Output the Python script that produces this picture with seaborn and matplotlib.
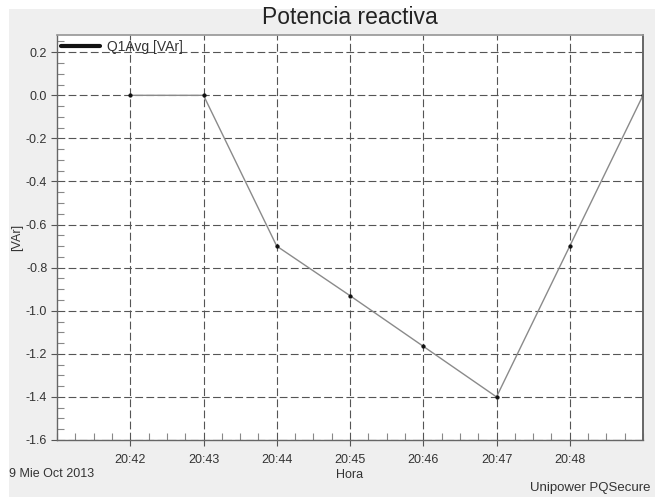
import matplotlib
matplotlib.use("Agg")
import matplotlib.pyplot as plt
import matplotlib.dates as mdates
from matplotlib.ticker import MultipleLocator
from matplotlib.patches import Rectangle
import pandas as pd
import seaborn as sns

# Reactive power samples, one per minute
times = ["20:42", "20:43", "20:44", "20:45", "20:46", "20:47", "20:48", "20:49"]
q1avg = [0.0, 0.0, -0.70, -0.93, -1.165, -1.40, -0.70, 0.0]
day = "2013-10-09"

title = "Potencia reactiva"
series_name = "Q1Avg [VAr]"
y_label = "[VAr]"
x_label = "Hora"
date_label = "9 Mie Oct 2013"
footer = "Unipower PQSecure"

df = pd.DataFrame({
    "Hora": pd.to_datetime([f"{day} {t}" for t in times]),
    "Q": q1avg,
})

sns.set_theme(style="white")
plt.rcParams["font.family"] = ["Liberation Sans", "DejaVu Sans"]

W, H = 655, 497
fig = plt.figure(figsize=(W / 100, H / 100), dpi=100, facecolor="white")
# grey window panel behind the chart
fig.patches.append(Rectangle((9 / W, 0), 1, 1 - 9 / H, transform=fig.transFigure,
                             facecolor="#efefef", edgecolor="none", zorder=-10))

ax = fig.add_axes([57 / W, 1 - 440 / H, (643 - 57) / W, (440 - 35) / H])
ax.set_facecolor("white")

sns.lineplot(data=df, x="Hora", y="Q", ax=ax, color="#8a8a8a", linewidth=1.0,
             marker="o", markersize=2.3, markerfacecolor="#111111",
             markeredgecolor="#111111", legend=False)

ax.set_xlim(pd.Timestamp(f"{day} 20:41"), pd.Timestamp(f"{day} 20:49"))
ax.set_ylim(-1.6, 0.28)

ax.xaxis.set_major_locator(mdates.MinuteLocator(byminute=range(42, 49)))
ax.xaxis.set_minor_locator(mdates.SecondLocator(bysecond=[0, 15, 30, 45]))
ax.xaxis.set_major_formatter(mdates.DateFormatter("%H:%M"))
ax.yaxis.set_major_locator(MultipleLocator(0.2))
ax.yaxis.set_minor_locator(MultipleLocator(0.05))
ax.yaxis.set_major_formatter(matplotlib.ticker.FuncFormatter(lambda v, p: f"{v:.1f}"))

ax.grid(True, which="major", color="#555555", linestyle=(0, (7, 3)), linewidth=0.8)
ax.tick_params(axis="both", which="major", direction="out", length=4, width=0.8,
               color="#555555", labelsize=9, labelcolor="#333333", pad=3,
               bottom=True, left=True)
ax.tick_params(axis="both", which="minor", direction="in", length=5, width=0.8,
               color="#888888", bottom=True, left=True)
ax.tick_params(axis="x", which="major", pad=6)

for side in ["left", "bottom"]:
    ax.spines[side].set_color("#666666")
    ax.spines[side].set_linewidth(1.0)
ax.spines["top"].set_color("#999999")
ax.spines["right"].set_color("#666666")
ax.spines["right"].set_linewidth(1.4)

ax.set_xlabel("")
ax.set_ylabel(y_label, fontsize=9, color="#333333", labelpad=2)

fig.text(350 / W, 1 - 18 / H, title, ha="center", va="center", fontsize=16.5, color="#222222")
fig.text(350 / W, 1 - 475 / H, x_label, ha="center", va="center", fontsize=9, color="#333333")
fig.text(9 / W, 1 - 474 / H, date_label, ha="left", va="center", fontsize=9, color="#333333")
fig.text(650 / W, 1 - 488 / H, footer, ha="right", va="center", fontsize=9.5, color="#333333")

leg_handle = matplotlib.lines.Line2D([], [], color="#111111", linewidth=3)
ax.legend([leg_handle], [series_name], loc="center left", bbox_to_anchor=(0.004, 0.970),
          frameon=False, fontsize=10, handlelength=2.8, handletextpad=0.5,
          borderaxespad=0.0, borderpad=0.1, labelcolor="#333333")

fig.savefig("out.png", dpi=100, facecolor=fig.get_facecolor())
